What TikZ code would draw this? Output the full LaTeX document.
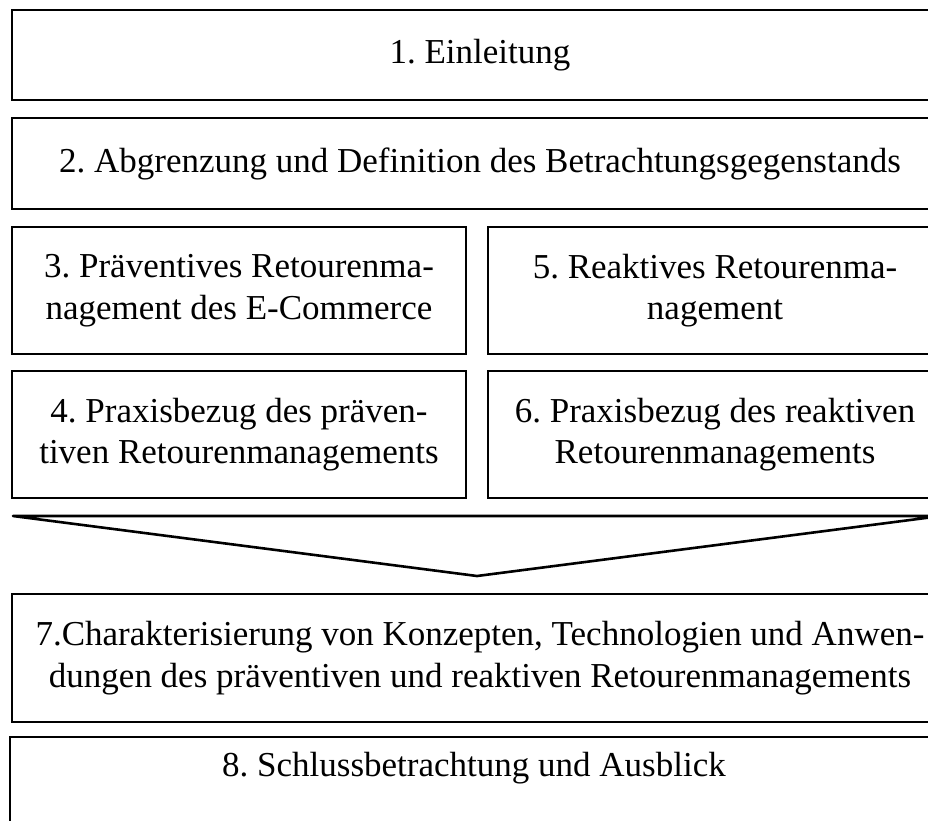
\documentclass[tikz,border=0pt]{standalone}
\usepackage{fontspec}
\setmainfont{Liberation Serif}
\frenchspacing
\begin{document}
\begin{tikzpicture}[x=1pt,y=-1pt,
  kapitel/.style={draw,line width=2.6pt,minimum width=936pt,align=center,inner sep=0pt,
    font=\fontsize{35}{41.5}\selectfont},
  halb/.style={kapitel,minimum width=454pt,minimum height=127pt}]
 \clip (0,0) rectangle (928,821);
 % obere Kapitel
 \node[kapitel,minimum height=90pt] (k1) at (480,55) {1. Einleitung};
 \node[kapitel,minimum height=91pt] (k2) at (480,163.5) {2. Abgrenzung und Definition des Betrachtungsgegenstands};
 % zwei Spalten
 \node[halb] (k3) at (239,290.5) {3. Präventives Retourenma-\\nagement des E-Commerce};
 \node[halb] (k5) at (715,290.5) {5. Reaktives Retourenma-\\nagement};
 \node[halb] (k4) at (239,434.5) {4. Praxisbezug des präven-\\tiven Retourenmanagements};
 \node[halb] (k6) at (715,434.5) {6. Praxisbezug des reaktiven\\Retourenmanagements};
 % Trichter
 \coordinate (tl) at (13,516); \coordinate (tr) at (941,516); \coordinate (ts) at (477,576);
 \draw[line width=2.6pt,line join=round] (tl) -- (tr) -- (ts) -- cycle;
 % untere Kapitel
 \node[kapitel,minimum height=128pt] (k7) at (480,658) {7.Charakterisierung von Konzepten, Technologien und Anwen-\\dungen des präventiven und reaktiven Retourenmanagements};
 \node[kapitel,minimum width=940pt,minimum height=110pt] (k8) at (480,792) {};
 \node[font=\fontsize{35}{41.5}\selectfont,inner sep=0pt] (t8) at (474,768) {8. Schlussbetrachtung und Ausblick};
\end{tikzpicture}
\end{document}
